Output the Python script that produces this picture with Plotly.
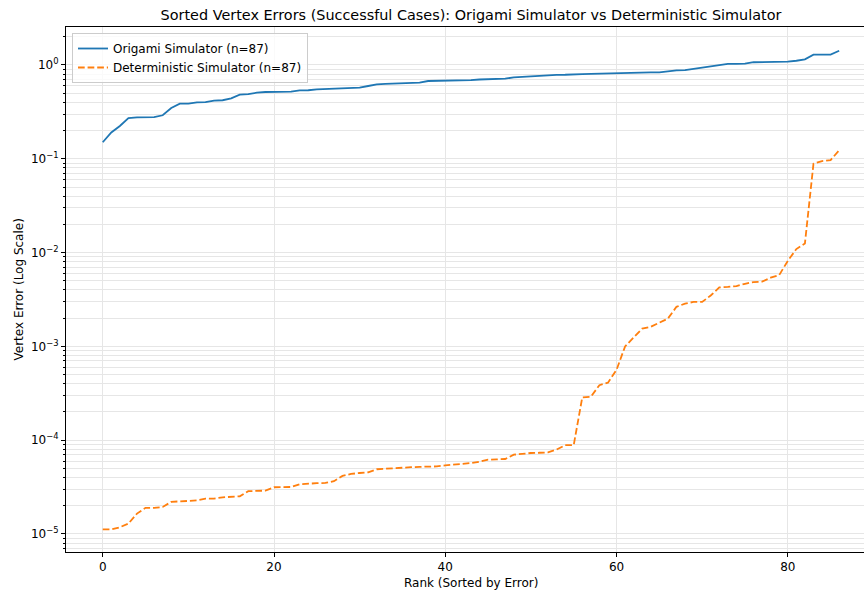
import plotly.graph_objects as go

rank = list(range(87))

origami = [0.150, 0.191, 0.224, 0.272, 0.276, 0.277, 0.278, 0.291, 0.348, 0.387,
           0.388, 0.400, 0.401, 0.417, 0.421, 0.441, 0.483, 0.488, 0.507, 0.515,
           0.515, 0.516, 0.520, 0.537, 0.538, 0.550, 0.553, 0.560, 0.561, 0.565,
           0.573, 0.597, 0.622, 0.630, 0.632, 0.635, 0.643, 0.648, 0.675, 0.676,
           0.686, 0.687, 0.687, 0.690, 0.700, 0.705, 0.710, 0.715, 0.739, 0.750,
           0.755, 0.776, 0.780, 0.785, 0.787, 0.800, 0.801, 0.805, 0.810, 0.817,
           0.828, 0.830, 0.830, 0.832, 0.835, 0.836, 0.863, 0.875, 0.880, 0.906,
           0.945, 0.970, 1.000, 1.030, 1.030, 1.032, 1.070, 1.070, 1.070, 1.072,
           1.085, 1.110, 1.150, 1.290, 1.290, 1.292, 1.420]

deterministic = [1.12e-5, 1.12e-5, 1.18e-5, 1.29e-5, 1.65e-5, 1.90e-5, 1.90e-5, 1.94e-5, 2.20e-5, 2.23e-5,
                 2.25e-5, 2.28e-5, 2.38e-5, 2.38e-5, 2.46e-5, 2.50e-5, 2.52e-5, 2.86e-5, 2.88e-5, 2.90e-5,
                 3.15e-5, 3.17e-5, 3.17e-5, 3.39e-5, 3.45e-5, 3.48e-5, 3.50e-5, 3.65e-5, 4.16e-5, 4.37e-5,
                 4.47e-5, 4.55e-5, 4.90e-5, 4.98e-5, 5.00e-5, 5.05e-5, 5.15e-5, 5.20e-5, 5.20e-5, 5.25e-5,
                 5.40e-5, 5.50e-5, 5.58e-5, 5.70e-5, 5.90e-5, 6.20e-5, 6.25e-5, 6.30e-5, 7.00e-5, 7.20e-5,
                 7.30e-5, 7.35e-5, 7.40e-5, 7.95e-5, 8.85e-5, 8.85e-5, 2.86e-4, 2.90e-4, 3.86e-4, 4.10e-4,
                 5.62e-4, 1.00e-3, 1.25e-3, 1.55e-3, 1.62e-3, 1.78e-3, 1.98e-3, 2.64e-3, 2.86e-3, 2.98e-3,
                 2.98e-3, 3.49e-3, 4.25e-3, 4.30e-3, 4.40e-3, 4.65e-3, 4.85e-3, 4.90e-3, 5.40e-3, 5.77e-3,
                 8.15e-3, 1.09e-2, 1.25e-2, 8.85e-2, 9.45e-2, 9.70e-2, 1.23e-1]

y_tickvals = [1e-5, 1e-4, 1e-3, 1e-2, 1e-1, 1e0]
y_ticktext = ["10<sup>−5</sup>", "10<sup>−4</sup>", "10<sup>−3</sup>",
              "10<sup>−2</sup>", "10<sup>−1</sup>", "10<sup>0</sup>"]
x_tickvals = [0, 20, 40, 60, 80]

FONT = "DejaVu Sans"
GRID = "#e6e6e6"
W, H = 864, 592

fig = go.Figure()
fig.add_trace(go.Scatter(x=rank, y=origami, mode="lines",
                         name="Origami Simulator (n=87)",
                         line=dict(color="#1f77b4", width=1.8)))
fig.add_trace(go.Scatter(x=rank, y=deterministic, mode="lines",
                         name="Deterministic Simulator (n=87)",
                         line=dict(color="#ff7f0e", width=1.8, dash="6.7px,2.9px")))

fig.update_layout(
    width=W, height=H,
    margin=dict(l=66, r=0, t=27, b=40, autoexpand=False),
    paper_bgcolor="white", plot_bgcolor="white",
    font=dict(family=FONT, size=12, color="black"),
    title=dict(text="Sorted Vertex Errors (Successful Cases): Origami Simulator vs Deterministic Simulator",
               x=471 / W, xref="container", xanchor="center", y=1 - 15 / H, yref="container",
               yanchor="middle", font=dict(family=FONT, size=14.4, color="black")),
    showlegend=True,
    legend=dict(x=(72 - 66) / (W - 66), y=(552 - 33) / 525, xanchor="left", yanchor="top",
                bgcolor="rgba(255,255,255,0.8)", bordercolor="#cccccc", borderwidth=1,
                font=dict(family=FONT, size=12), itemwidth=30, tracegroupgap=0),
    xaxis=dict(range=[-4.29, 88.9], tickvals=x_tickvals, showgrid=True, gridcolor=GRID,
               gridwidth=1, zeroline=False, showline=True, linecolor="black", linewidth=1,
               mirror=True, ticks="outside", ticklen=4, tickcolor="black", automargin=False),
    yaxis=dict(type="log", range=[-5.192, 0.405], tickvals=y_tickvals, ticktext=y_ticktext,
               showgrid=True, gridcolor=GRID, gridwidth=1, zeroline=False,
               showline=True, linecolor="black", linewidth=1, mirror=True,
               ticks="outside", ticklen=4, tickcolor="black", automargin=False,
               minor=dict(dtick="D1", showgrid=True, gridcolor=GRID, gridwidth=1,
                          ticks="outside", ticklen=2, tickcolor="black")),
    annotations=[
        dict(text="Rank (Sorted by Error)", xref="paper", yref="paper",
             x=(471 - 66) / (W - 66), y=-(582.7 - 552) / 525, xanchor="center", yanchor="middle",
             showarrow=False, font=dict(family=FONT, size=12)),
        dict(text="Vertex Error (Log Scale)", xref="paper", yref="paper",
             x=-(66 - 18) / (W - 66), y=0.5, xanchor="center", yanchor="middle", textangle=-90,
             showarrow=False, font=dict(family=FONT, size=12)),
    ],
)

fig.write_html("out.html", config={"displayModeBar": False},
               post_script="document.body.style.margin='0';document.body.style.overflow='hidden';")
